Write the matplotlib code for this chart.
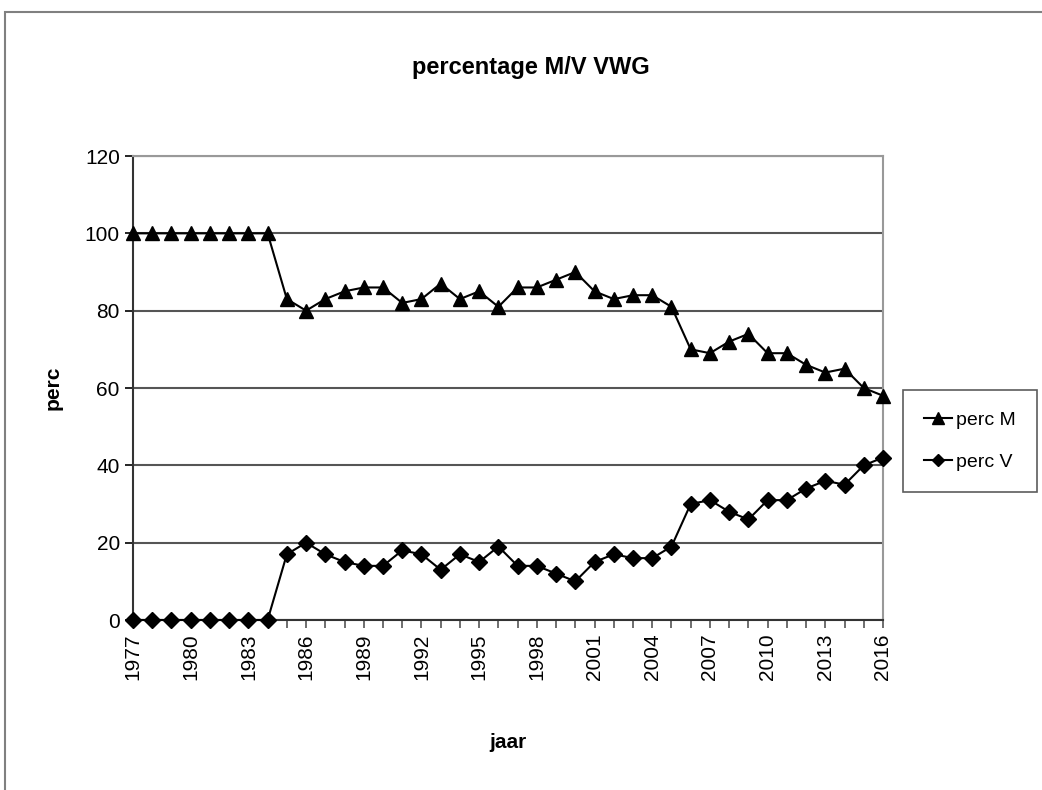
import numpy as np
import matplotlib.pyplot as plt
from matplotlib.patches import Rectangle

plt.rcParams['font.family'] = ['Liberation Sans', 'DejaVu Sans']

# years and percentages
jaar = list(range(1977, 2017))
perc_M = [100, 100, 100, 100, 100, 100, 100, 100, 83, 80,
          83, 85, 86, 86, 82, 83, 87, 83, 85, 81,
          86, 86, 88, 90, 85, 83, 84, 84, 81, 70,
          69, 72, 74, 69, 69, 66, 64, 65, 60, 58]
perc_V = [0, 0, 0, 0, 0, 0, 0, 0, 17, 20,
          17, 15, 14, 14, 18, 17, 13, 17, 15, 19,
          14, 14, 12, 10, 15, 17, 16, 16, 19, 30,
          31, 28, 26, 31, 31, 34, 36, 35, 40, 42]
tick_years = jaar[::3]

fig = plt.figure(figsize=(10.42, 7.9), dpi=100)
ax = fig.add_axes([133/1042, 1 - 620/790, 750/1042, 464/790])

# outer chart border
fig.patches.append(Rectangle((5/1042, -0.01), 1.02, 1 - 12/790 + 0.01,
                             transform=fig.transFigure, fill=False,
                             edgecolor='#808080', lw=1.5))

ax.plot(jaar, perc_M, color='black', marker='^', markersize=10, lw=1.5, label='perc M', clip_on=False, zorder=3)
ax.plot(jaar, perc_V, color='black', marker='D', markersize=8, lw=1.5, label='perc V', clip_on=False, zorder=3)

ax.set_xlim(1977, 2016)
ax.set_ylim(0, 120)
ax.set_yticks(range(0, 121, 20))
ax.set_xticks(jaar)
ax.set_xticklabels([str(y) if y in tick_years else '' for y in jaar], rotation=90, fontsize=15)
ax.tick_params(axis='y', labelsize=15, length=6, width=1.2)
ax.tick_params(axis='x', length=6, width=1.2, color='#555555')

ax.grid(axis='y', color='#555555', lw=1.5)
ax.set_axisbelow(True)
for s in ['top', 'right']:
    ax.spines[s].set_color('#999999')
    ax.spines[s].set_linewidth(1.5)
for s in ['left', 'bottom']:
    ax.spines[s].set_color('#333333')
    ax.spines[s].set_linewidth(1.5)

ax.set_title('percentage M/V VWG', fontsize=17, fontweight='bold', pad=59, x=0.53)
ax.set_xlabel('jaar', fontsize=15, fontweight='bold', labelpad=38)
ax.set_ylabel('perc', fontsize=15, fontweight='bold', labelpad=16)

leg = ax.legend(loc='upper left', fontsize=14, frameon=True, fancybox=False,
                edgecolor='#333333', handlelength=1.4, handletextpad=0.2,
                borderpad=1.1, labelspacing=1.25, markerscale=0.8, borderaxespad=0)
leg.set_bbox_to_anchor((903/1042, 1 - 390/790), transform=fig.transFigure)
leg.get_frame().set_linewidth(1.2)

fig.savefig('out.png', dpi=100)
